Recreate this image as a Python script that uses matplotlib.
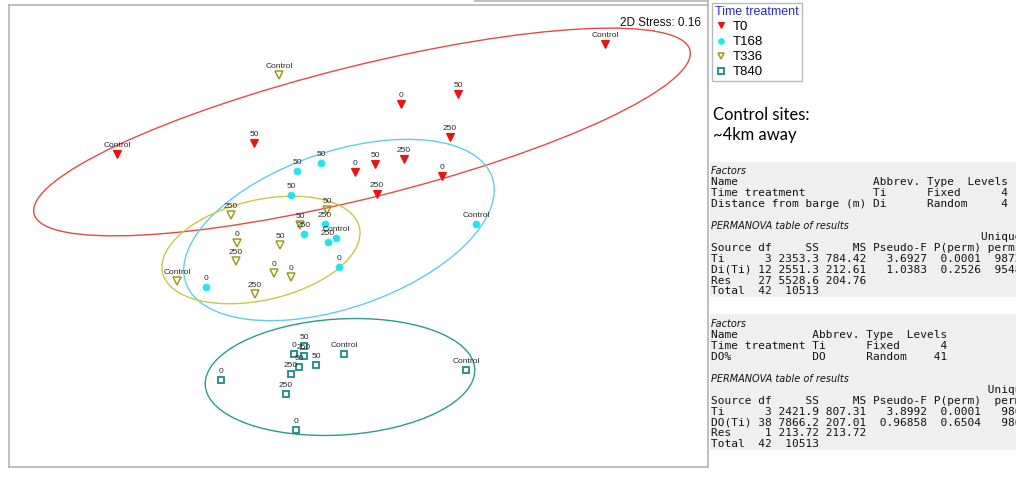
import matplotlib.pyplot as plt
from matplotlib.patches import Ellipse, Rectangle
from matplotlib.lines import Line2D

t0_x = [2.55, -2.33, 1.08, 0.51, -0.96, 1.00, 0.05, 0.25, 0.54, 0.92, 0.27]
t0_y = [1.96, 0.86, 1.46, 1.36, 0.97, 1.03, 0.68, 0.76, 0.81, 0.64, 0.46]
t0_lab = ["Control", "Control", "50", "0", "50", "250", "0", "50", "250", "0", "250"]

t168_x = [-0.29, -0.53, -0.59, 1.26, -0.25, -0.46, -0.14, -0.22, -0.11, -1.44]
t168_y = [0.77, 0.69, 0.45, 0.16, 0.16, 0.06, 0.02, -0.02, -0.27, -0.47]
t168_lab = ["50", "50", "50", "Control", "250", "250", "Control", "250", "0", "0"]

t336_x = [-0.71, -1.19, -0.23, -0.50, -1.13, -0.70, -1.14, -0.76, -0.59, -1.73, -0.95]
t336_y = [1.65, 0.25, 0.30, 0.15, -0.03, -0.05, -0.21, -0.33, -0.37, -0.41, -0.54]
t336_lab = ["Control", "250", "50", "50", "0", "50", "250", "0", "0", "Control", "250"]

t840_x = [-0.46, -0.56, -0.46, -0.51, -0.34, -0.06, -0.59, -1.29, -0.64, -0.54, 1.16]
t840_y = [-1.06, -1.14, -1.16, -1.27, -1.25, -1.14, -1.34, -1.40, -1.54, -1.90, -1.30]
t840_lab = ["50", "0", "250", "50", "50", "Control", "250", "0", "250", "0", "Control"]

# group ellipses as drawn in the ordination: centre x, centre y, width, height, angle
ell_t0 = (0.12, 1.08, 6.76, 1.32, 14)
ell_t168 = (-0.11, 0.10, 3.24, 1.56, 19)
ell_t336 = (-0.89, -0.10, 2.02, 1.00, 13)
ell_t840 = (-0.10, -1.37, 2.70, 1.16, 3.5)

groups = ["T0", "T168", "T336", "T840"]
stress = 0.16

# PERMANOVA results (two models)
tab1_factors = [("Time treatment", "Ti", "Fixed", "4"),
                ("Distance from barge (m)", "Di", "Random", "4")]
tab1_rows = [("Ti", "3", "2353.3", "784.42", "3.6927", "0.0001", "9872"),
             ("Di(Ti)", "12", "2551.3", "212.61", "1.0383", "0.2526", "9548"),
             ("Res", "27", "5528.6", "204.76", "", "", ""),
             ("Total", "42", "10513", "", "", "", "")]
tab2_factors = [("Time treatment", "Ti", "Fixed", "4"),
                ("DO%", "DO", "Random", "41")]
tab2_rows = [("Ti", "3", "2421.9", "807.31", "3.8992", "0.0001", "9806"),
             ("DO(Ti)", "38", "7866.2", "207.01", "0.96858", "0.6504", "9863"),
             ("Res", "1", "213.72", "213.72", "", "", ""),
             ("Total", "42", "10513", "", "", "", "")]

W, H = 1016, 484
fig = plt.figure(figsize=(W / 100, H / 100), dpi=100)


def fx(px):
    return px / W


def fy(py):
    return 1 - py / H


# ordination panel
ax = fig.add_axes([fx(9), fy(467), (708 - 9) / W, (467 - 5) / H])
ax.set_xlim(-3.41, 3.58)
ax.set_ylim(-2.27, 2.35)
ax.set_xticks([])
ax.set_yticks([])
for s in ax.spines.values():
    s.set_color("#b4b4b4")
    s.set_linewidth(1.2)

styles = {
    "T0": dict(marker="v", color="#ee1111", mfc="#ee1111", ms=5.8, mew=0.8),
    "T168": dict(marker="o", color="#1ee6ee", mfc="#1ee6ee", ms=5.0, mew=0.5),
    "T336": dict(marker="v", color="#9c9c1c", mfc="none", ms=5.2, mew=1.1),
    "T840": dict(marker="s", color="#1c8a8a", mfc="none", ms=4.4, mew=1.3),
}
ell_colors = {"T0": "#e84848", "T168": "#62cce8", "T336": "#c8c848", "T840": "#2e9a8c"}

data = {
    "T0": (t0_x, t0_y, t0_lab, ell_t0),
    "T168": (t168_x, t168_y, t168_lab, ell_t168),
    "T336": (t336_x, t336_y, t336_lab, ell_t336),
    "T840": (t840_x, t840_y, t840_lab, ell_t840),
}

for g in groups:
    xs, ys, labs, (cx, cy, ew, eh, ang) = data[g]
    ax.add_patch(Ellipse((cx, cy), ew, eh, angle=ang, fill=False,
                         edgecolor=ell_colors[g], lw=1.0, zorder=1))

for g in groups:
    xs, ys, labs, _ = data[g]
    st = styles[g]
    ax.plot(xs, ys, ls="none", marker=st["marker"], mfc=st["mfc"], mec=st["color"],
            ms=st["ms"], mew=st["mew"], zorder=3)
    for x, y, lab in zip(xs, ys, labs):
        ax.annotate(lab, (x, y), xytext=(0, 3.5), textcoords="offset points",
                    ha="center", va="bottom", fontsize=6, color="#2a2a2a",
                    family="Liberation Sans", zorder=4)

ax.text(0.99, 0.975, f"2D Stress: {stress}", transform=ax.transAxes, ha="right",
        va="top", fontsize=8.5, family="Liberation Sans", color="#111111")

# stray window edge above the panel
fig.add_artist(Line2D([fx(475), fx(708)], [fy(0.5), fy(0.5)], color="#b4b4b4", lw=1.2))
fig.add_artist(Line2D([fx(708), fx(708)], [fy(0), fy(5)], color="#b4b4b4", lw=1.2))

# legend
handles = []
for g in groups:
    st = styles[g]
    handles.append(Line2D([], [], ls="none", marker=st["marker"], mfc=st["mfc"],
                          mec=st["color"], ms=st["ms"] * 0.85, mew=st["mew"], label=g))
leg = fig.legend(handles=handles, loc="upper left", bbox_to_anchor=(fx(712), fy(3)),
                 title="Time treatment", alignment="left", frameon=True, fancybox=False,
                 edgecolor="#a8a8a8", borderpad=0.22, handlelength=0.9, handletextpad=0.45,
                 labelspacing=0.22, borderaxespad=0,
                 prop={"family": "Liberation Sans", "size": 9.5},
                 title_fontproperties={"family": "Liberation Sans", "size": 9})
leg.get_title().set_color("#2a2ad8")
leg.get_frame().set_linewidth(1.0)

fig.text(fx(713), fy(115), "Control sites:", fontsize=12, family="Lato", va="center")
fig.text(fx(713), fy(135), "~4km away", fontsize=12, family="Lato", va="center")


# PERMANOVA tables
def draw_table(top, bottom, first_y, name_w, factors, rows, perm_w):
    fig.add_artist(Rectangle((fx(710), fy(bottom)), (W - 710) / W, (bottom - top) / H,
                             facecolor="#efefef", edgecolor="none"))
    step = 10.95
    lines = []
    lines.append(("Factors", True))
    lines.append((f"{'Name':<{name_w}}{'Abbrev.':<8}{'Type':<6}{'Levels':>6}", False))
    for n, a, t, lv in factors:
        lines.append((f"{n:<{name_w}}{a:<8}{t:<6}{lv:>6}", False))
    lines.append(("", False))
    lines.append(("PERMANOVA table of results", True))
    lines.append((" " * (40 + perm_w - 6) + "Unique", False))
    lines.append((f"{'Source':<7}{'df':>2}{'SS':>7}{'MS':>7}{'Pseudo-F':>9}"
                  f"{'P(perm)':>8}{'perms':>{perm_w}}", False))
    for r in rows:
        lines.append((f"{r[0]:<7}{r[1]:>2}{r[2]:>7}{r[3]:>7}{r[4]:>9}{r[5]:>8}"
                      f"{r[6]:>{perm_w}}", False))
    for i, (txt, ital) in enumerate(lines):
        y = fy(first_y + i * step)
        if ital:
            fig.text(fx(711), y, txt, fontsize=7, family="DejaVu Sans", style="italic",
                     va="center", color="#111111")
        else:
            fig.text(fx(711), y, txt, fontsize=8.0, family="DejaVu Sans Mono",
                     va="center", color="#111111")


draw_table(162, 297, 171, 24, tab1_factors, tab1_rows, 6)
draw_table(314, 450, 324, 15, tab2_factors, tab2_rows, 7)

fig.savefig("out.png", dpi=100)
